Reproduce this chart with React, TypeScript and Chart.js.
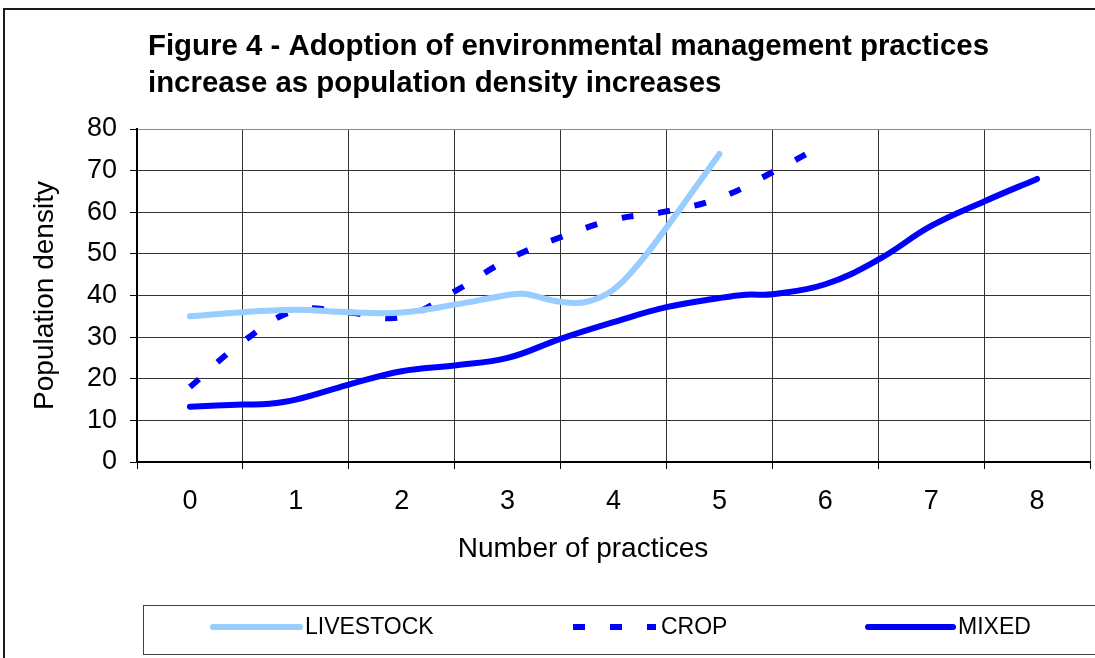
import React, { useEffect, useRef } from 'react';
import { Chart, registerables } from 'chart.js';

Chart.register(...registerables);

const FONT = '"Liberation Sans", Arial, Helvetica, sans-serif';

// ---- text ----
const titleLines = [
  'Figure 4 - Adoption of environmental management practices',
  'increase as population density increases',
];
const xAxisTitle = 'Number of practices';
const yAxisTitle = 'Population density';

// ---- axes ----
const xTickLabels = ['0', '1', '2', '3', '4', '5', '6', '7', '8'];
const xGridValues = [-0.5, 0.5, 1.5, 2.5, 3.5, 4.5, 5.5, 6.5, 7.5, 8.5];
const yMin = 0;
const yMax = 80;
const yStep = 10;

// ---- series (x in number of practices, y in population density) ----
const livestockX = [0, 0.5, 1, 1.5, 2, 2.5, 3, 3.15, 3.5, 3.75, 4, 4.25, 4.5, 4.75, 5];
const livestockY = [35, 36, 36.6, 36, 35.9, 37.8, 40.1, 40.4, 38.5, 38.5, 41.4, 48, 56.3, 65.1, 74];

const cropX = [0, 0.5, 1, 1.5, 2, 2.5, 3, 3.5, 4, 4.5, 5, 5.5, 6];
const cropY = [18, 28.9, 36.4, 35.9, 34.8, 41, 48.6, 54, 58.2, 60.2, 63.4, 69.6, 76.5];

const mixedX = [0, 0.5, 0.75, 1, 1.5, 2, 2.5, 3, 3.5, 4, 4.5, 5, 5.25, 5.5, 6, 6.5, 7, 7.5, 8];
const mixedY = [13.3, 13.8, 14, 15, 18.6, 21.8, 23.2, 25, 29.6, 33.6, 37.2, 39.4, 40.2, 40.3, 42.7, 48.6, 56.7, 62.6, 68];

const seriesLabels = ['LIVESTOCK', 'CROP', 'MIXED'];

const toPoints = (xs: number[], ys: number[]) => xs.map((x, i) => ({ x, y: ys[i] }));

const xTickValues: number[] = (() => {
  const vals: number[] = [];
  xTickLabels.forEach((l) => vals.push(Number(l)));
  xGridValues.forEach((v) => vals.push(v));
  return vals.sort((a, b) => a - b);
})();

const decorPlugin = {
  id: 'decor',
  afterDraw(chart: any) {
    const ctx = chart.ctx as CanvasRenderingContext2D;
    ctx.save();
    // outer chart border
    ctx.strokeStyle = '#1a1a1a';
    ctx.lineWidth = 2;
    ctx.beginPath();
    ctx.moveTo(4, 700);
    ctx.lineTo(4, 9);
    ctx.lineTo(1200, 9);
    ctx.stroke();

    // title
    ctx.fillStyle = '#000';
    ctx.font = `bold 29.4px ${FONT}`;
    ctx.textAlign = 'left';
    ctx.textBaseline = 'alphabetic';
    titleLines.forEach((t, i) => ctx.fillText(t, 148, 55 + i * 37));

    // x axis title
    ctx.font = `28px ${FONT}`;
    ctx.textAlign = 'center';
    ctx.textBaseline = 'alphabetic';
    ctx.fillText(xAxisTitle, 583, 557);

    // legend box
    ctx.strokeStyle = '#404040';
    ctx.lineWidth = 1;
    ctx.strokeRect(143.5, 605.5, 1100, 49);

    // legend items
    const starts = [213, 573, 868];
    const lens = [87, 83, 85];
    const ly = 627;
    chart.data.datasets.forEach((ds: any, i: number) => {
      const x0 = starts[i];
      ctx.save();
      ctx.strokeStyle = ds.borderColor;
      ctx.lineWidth = ds.borderWidth;
      ctx.lineCap = ds.borderDash && ds.borderDash.length ? 'butt' : 'round';
      ctx.setLineDash(ds.borderDash || []);
      ctx.beginPath();
      ctx.moveTo(x0, ly);
      ctx.lineTo(x0 + lens[i], ly);
      ctx.stroke();
      ctx.restore();
      ctx.fillStyle = '#000';
      ctx.font = `23px ${FONT}`;
      ctx.textAlign = 'left';
      ctx.textBaseline = 'middle';
      ctx.fillText(ds.label, x0 + lens[i] + 5, ly + 1);
    });
    ctx.restore();
  },
};

export default function App() {
  const ref = useRef<HTMLCanvasElement | null>(null);

  useEffect(() => {
    if (!ref.current) return;
    const chart = new Chart(ref.current, {
      type: 'line',
      data: {
        datasets: [
          {
            label: seriesLabels[0],
            data: toPoints(livestockX, livestockY),
            borderColor: '#99CCFF',
            borderWidth: 6,
            borderCapStyle: 'round',
            borderJoinStyle: 'round',
            pointRadius: 0,
            tension: 0.4,
            fill: false,
          },
          {
            label: seriesLabels[1],
            data: toPoints(cropX, cropY),
            borderColor: '#0000FF',
            borderWidth: 6,
            borderDash: [12, 25],
            borderCapStyle: 'butt',
            borderJoinStyle: 'round',
            pointRadius: 0,
            tension: 0.4,
            fill: false,
          },
          {
            label: seriesLabels[2],
            data: toPoints(mixedX, mixedY),
            borderColor: '#0000FF',
            borderWidth: 6,
            borderCapStyle: 'round',
            borderJoinStyle: 'round',
            pointRadius: 0,
            tension: 0.4,
            fill: false,
          },
        ],
      },
      options: {
        responsive: false,
        animation: false,
        devicePixelRatio: 1,
        layout: { padding: { top: 129, right: 5, left: 0, bottom: 0 } },
        plugins: {
          legend: { display: false },
          tooltip: { enabled: false },
          title: { display: false },
        },
        scales: {
          x: {
            type: 'linear',
            min: -0.5,
            max: 8.5,
            afterBuildTicks: (scale: any) => {
              scale.ticks = xTickValues.map((v) => ({ value: v }));
            },
            afterFit: (scale: any) => {
              scale.height = 196;
              scale.paddingLeft = 0;
              scale.paddingRight = 0;
            },
            ticks: {
              autoSkip: false,
              maxRotation: 0,
              padding: 16,
              color: '#000',
              font: { family: FONT, size: 27 },
              callback: (value: any) => {
                const s = String(value);
                return xTickLabels.includes(s) ? s : '';
              },
            },
            grid: {
              drawTicks: true,
              tickLength: 7,
              lineWidth: 1,
              color: (c: any) => {
                const v = c.tick ? c.tick.value : 0;
                if (Number.isInteger(v)) return 'rgba(0,0,0,0)';
                if (v === 8.5) return '#8a8a8a';
                return '#333333';
              },
              tickColor: (c: any) => {
                const v = c.tick ? c.tick.value : 0;
                return Number.isInteger(v) ? 'rgba(0,0,0,0)' : '#000';
              },
            },
            border: { display: true, color: '#000', width: 2 },
            title: { display: false },
          },
          y: {
            type: 'linear',
            min: yMin,
            max: yMax,
            afterFit: (scale: any) => {
              scale.width = 137;
            },
            ticks: {
              stepSize: yStep,
              padding: 13,
              color: '#000',
              font: { family: FONT, size: 27 },
            },
            grid: {
              drawTicks: true,
              tickLength: 7,
              lineWidth: 1,
              color: (c: any) => {
                const v = c.tick ? c.tick.value : 0;
                return v === yMax ? '#8a8a8a' : '#333333';
              },
              tickColor: '#000',
            },
            border: { display: true, color: '#000', width: 2 },
            title: {
              display: true,
              text: yAxisTitle,
              color: '#000',
              font: { family: FONT, size: 28 },
              padding: { top: 28, bottom: 0 },
            },
          },
        },
      },
      plugins: [decorPlugin],
    } as any);
    return () => chart.destroy();
  }, []);

  return (
    <div style={{ position: 'fixed', left: 0, top: 0, width: 1095, height: 658, background: '#fff' }}>
      <canvas ref={ref} width={1095} height={658} style={{ display: 'block' }} />
    </div>
  );
}
